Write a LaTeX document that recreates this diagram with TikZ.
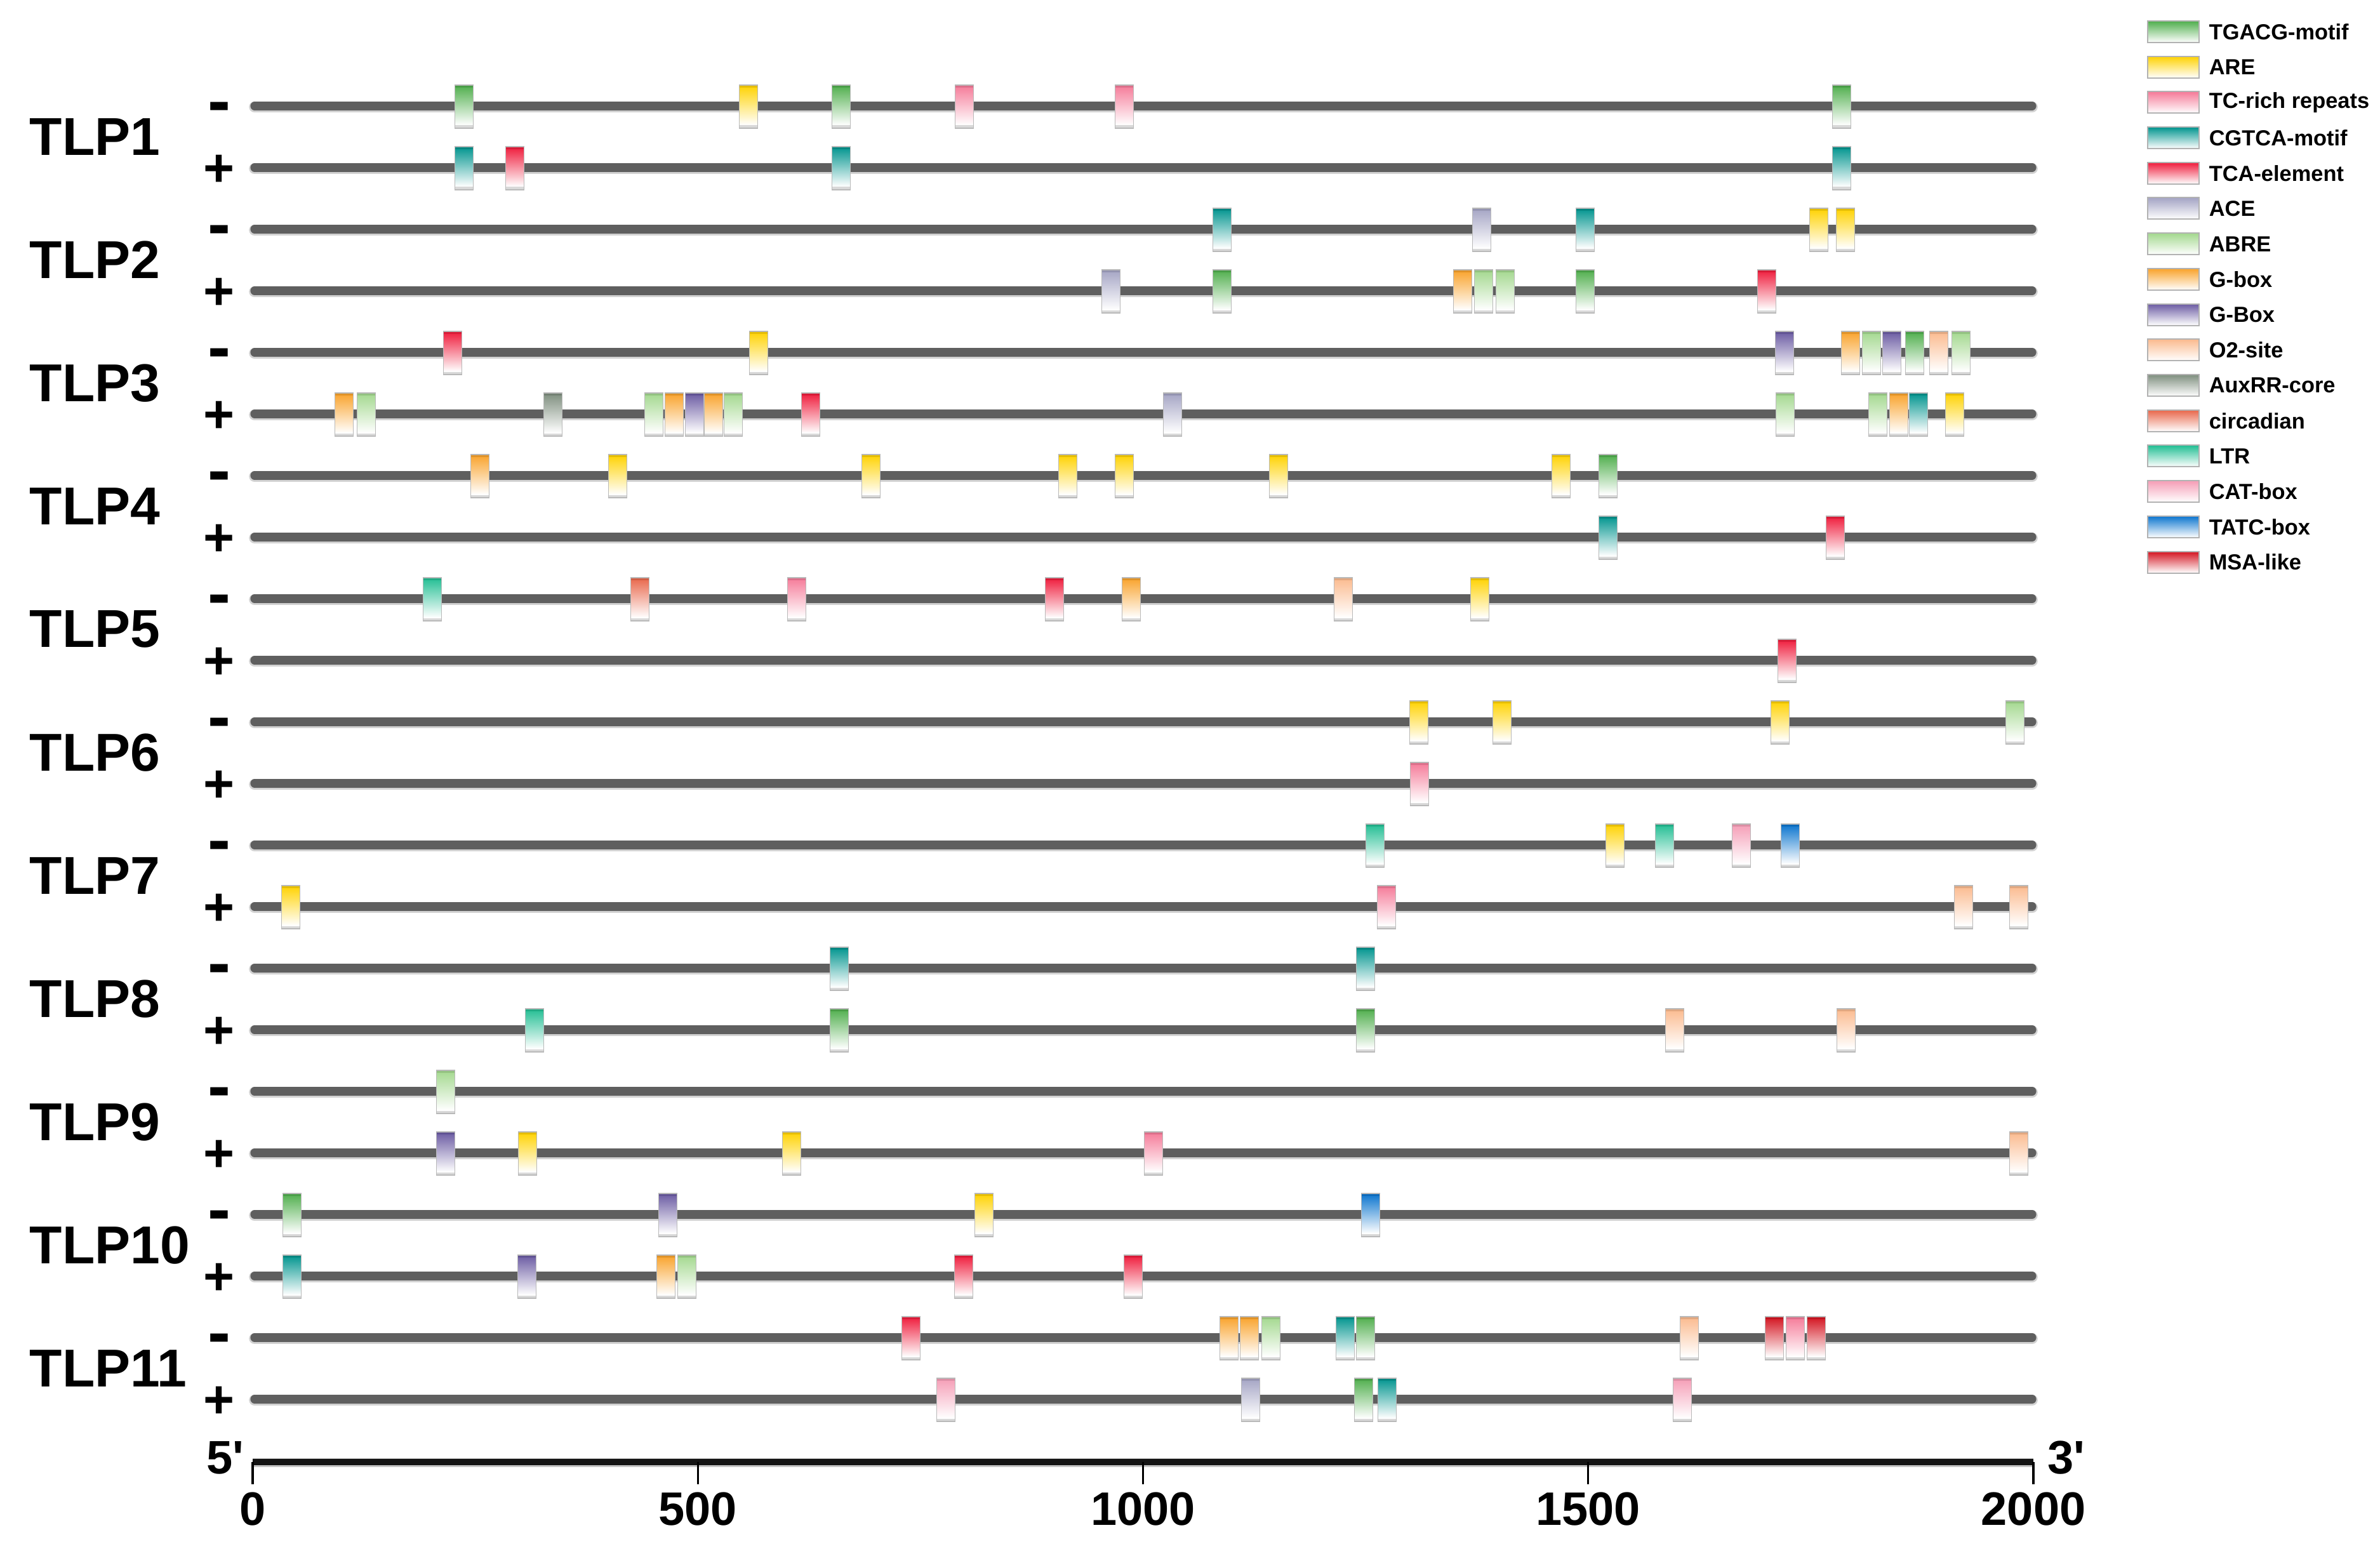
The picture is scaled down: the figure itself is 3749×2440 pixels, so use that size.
\documentclass[tikz,border=0pt]{standalone}
\usepackage{fontspec}
\setmainfont{Liberation Sans}
\definecolor{linegray}{HTML}{5F5F5F}
\definecolor{tg}{HTML}{4FAE4C}
\definecolor{are}{HTML}{FFD200}
\definecolor{tc}{HTML}{F57A98}
\definecolor{cg}{HTML}{00948E}
\definecolor{tca}{HTML}{EF1B3B}
\definecolor{ace}{HTML}{A4A4C4}
\definecolor{abre}{HTML}{A3D88E}
\definecolor{gbox}{HTML}{F9A22A}
\definecolor{gB}{HTML}{6A5AA2}
\definecolor{otwo}{HTML}{FBBA8E}
\definecolor{aux}{HTML}{7E8E7E}
\definecolor{circ}{HTML}{E8664A}
\definecolor{ltr}{HTML}{22BE93}
\definecolor{cat}{HTML}{F59DB6}
\definecolor{tatc}{HTML}{0A74CE}
\definecolor{msa}{HTML}{D3121E}
\newcommand\motif[3]{%
  \fill[gray!30] (#1-14.5,#2+30) rectangle (#1+14.5,#2+35);
  \path[top color=#3, middle color=#3!48, bottom color=white] (#1-14.5,#2-33) rectangle (#1+14.5,#2+30);
  \fill[#3!80!black, opacity=0.5] (#1-14.5,#2-33) rectangle (#1+14.5,#2-29);
  \draw[gray!55, line width=0.45pt] (#1-14.5,#2-33) rectangle (#1+14.5,#2+35);
}
\newcommand\legbox[3]{%
  \path[top color=#3, middle color=#3!50, bottom color=white] (#1,#2-17) rectangle (#1+81,#2+17);
  \draw[gray!60, line width=0.5pt] (#1,#2-17) rectangle (#1+81,#2+17);
}
\begin{document}
\begin{tikzpicture}[x=0.25pt,y=-0.25pt,
  strand/.style={line width=3.3pt, color=linegray, line cap=round},
  strandshadow/.style={line width=4.4pt, color=gray!35, line cap=round},
  tlp/.style={font=\fontsize{21}{24}\selectfont\bfseries, anchor=west, inner sep=0pt},
  minussign/.style={font=\fontsize{27}{30}\selectfont\bfseries, inner sep=0pt},
  plussign/.style={font=\fontsize{21}{24}\selectfont\bfseries, inner sep=0pt},
  ticklab/.style={font=\fontsize{18.5}{22}\selectfont\bfseries, inner sep=0pt},
  leg/.style={font=\fontsize{8.6}{10}\selectfont\bfseries, anchor=west, inner sep=0pt}]
\path[use as bounding box, fill=white] (0,0) rectangle (3749,2440);

% strands
\foreach \k in {0,...,21} {
  \pgfmathsetmacro\yy{167+97*\k}
  \draw[strandshadow] (401,\yy+1.5) -- (3201,\yy+1.5);
  \draw[strand] (401,\yy) -- (3201,\yy);
}

% row labels and strand signs
\foreach \n in {1,...,11} {
  \pgfmathsetmacro\ym{167+97*(2*\n-2)+11}
  \pgfmathsetmacro\yp{167+97*(2*\n-1)+5}
  \pgfmathsetmacro\yc{167+97*(2*\n-1.5)}
  \node[tlp] (tlp\n) at (46,\yc) {TLP\n};
  \node[minussign] (minus\n) at (345,\ym) {-};
  \node[plussign] (plus\n) at (345,\yp) {+};
}

% motifs
\foreach \k/\lst in {
  0/{731/tg,1179/are,1325/tg,1519/tc,1771/tc,2901/tg},
  1/{731/cg,811/tca,1325/cg,2901/cg},
  2/{1925/cg,2334/ace,2497/cg,2865/are,2907/are},
  3/{1750/ace,1925/tg,2304/gbox,2337/abre,2371/abre,2497/tg,2783/tca},
  4/{713/tca,1195/are,2811/gB,2915/gbox,2948/abre,2980/gB,3016/tg,3054/otwo,3089/abre},
  5/{542/gbox,577/abre,871/aux,1030/abre,1062/gbox,1094/gB,1124/gbox,1155/abre,1277/tca,1847/ace,2812/abre,2958/abre,2991/gbox,3022/cg,3079/are},
  6/{756/gbox,973/are,1372/are,1682/are,1771/are,2014/are,2459/are,2533/tg},
  7/{2533/cg,2891/tca},
  8/{681/ltr,1008/circ,1255/tc,1661/tca,1782/gbox,2116/otwo,2331/are},
  9/{2815/tca},
  10/{2235/are,2366/are,2804/are,3174/abre},
  11/{2236/tc},
  12/{2166/ltr,2544/are,2622/ltr,2743/cat,2820/tatc},
  13/{458/are,2184/tc,3093/otwo,3180/otwo},
  14/{1322/cg,2151/cg},
  15/{842/ltr,1322/tg,2151/tg,2638/otwo,2908/otwo},
  16/{702/abre},
  17/{702/gB,831/are,1247/are,1817/tc,3180/otwo},
  18/{460/tg,1052/gB,1550/are,2159/tatc},
  19/{460/cg,830/gB,1049/gbox,1082/abre,1518/tca,1785/tca},
  20/{1435/tca,1936/gbox,1968/gbox,2002/abre,2119/cg,2151/tg,2661/otwo,2795/msa,2828/tc,2861/msa},
  21/{1490/cat,1970/ace,2148/tg,2185/cg,2650/cat}} {
  \pgfmathsetmacro\yy{167+97*\k}
  \foreach \xx/\cc in \lst {
    \motif{\xx}{\yy}{\cc}
  }
}

% axis
\coordinate (ax0) at (398,2303);
\coordinate (ax1) at (3203,2303);
\draw[line width=3.6pt, gray!45] ([yshift=-0.3pt]ax0) -- ([yshift=-0.3pt]ax1);
\draw[line width=2.6pt, black!92] (ax0) -- (ax1);
\foreach \i/\lab in {0/0,1/500,2/1000,3/1500,4/2000} {
  \pgfmathsetmacro\tx{398+701.25*\i}
  \coordinate (t\i) at (\tx,2303);
  \coordinate (tb\i) at (\tx,2338);
  \draw[line width=0.8pt, black] (t\i) -- (tb\i);
  \node[ticklab] (lab\i) at (\tx,2377) {\lab};
}
\node[ticklab] (five) at (355,2296) {5\textquotesingle};
\node[ticklab] (three) at (3255,2296) {3\textquotesingle};

% legend
\foreach \j/\cc/\name in {0/tg/TGACG-motif,1/are/ARE,2/tc/TC-rich repeats,3/cg/CGTCA-motif,4/tca/TCA-element,5/ace/ACE,6/abre/ABRE,7/gbox/G-box,8/gB/G-Box,9/otwo/O2-site,10/aux/AuxRR-core,11/circ/circadian,12/ltr/LTR,13/cat/CAT-box,14/tatc/TATC-box,15/msa/MSA-like} {
  \pgfmathsetmacro\ly{50+55.7*\j}
  \legbox{3383}{\ly}{\cc}
  \node[leg] (leg\j) at (3479,\ly) {\name};
}
\end{tikzpicture}
\end{document}
